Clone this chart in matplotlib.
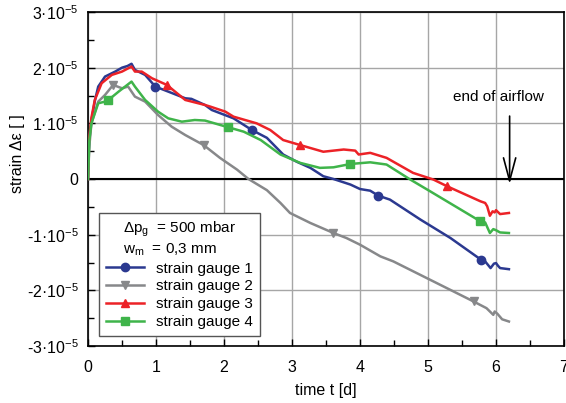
import matplotlib
matplotlib.use("Agg")
import matplotlib.pyplot as plt
import numpy as np

plt.rcParams['font.family'] = ['Liberation Sans', 'DejaVu Sans']
plt.rcParams['mathtext.fontset'] = 'custom'
plt.rcParams['mathtext.rm'] = 'Liberation Sans'
plt.rcParams['mathtext.it'] = 'Liberation Sans:italic'

# ---- data (strain in units of 1e-5) ----
t_g1 = [0, 0.01, 0.03, 0.054, 0.1, 0.15, 0.25, 0.4, 0.5, 0.58, 0.64, 0.69, 0.84, 0.99, 1.18, 1.43, 1.52,
        1.72, 1.82, 2.14, 2.41, 2.63, 2.87, 3.07, 3.27, 3.46, 3.61, 3.86, 4.0, 4.15, 4.27, 4.44, 4.89,
        5.33, 5.78, 5.84, 5.92, 5.97, 6.0, 6.03, 6.06, 6.19]
s_g1 = [0, 0.5, 0.85, 1.07, 1.4, 1.66, 1.84, 1.93, 2.0, 2.03, 2.07, 1.96, 1.87, 1.66, 1.57, 1.45, 1.44,
        1.33, 1.24, 1.09, 0.88, 0.74, 0.44, 0.31, 0.2, 0.05, 0.0, -0.1, -0.18, -0.21, -0.30, -0.37, -0.73,
        -1.06, -1.45, -1.48, -1.6, -1.52, -1.51, -1.56, -1.6, -1.62]
m_g1 = [13, 20, 30, 34]

t_g2 = [0, 0.02, 0.05, 0.15, 0.25, 0.37, 0.5, 0.59, 0.69, 0.84, 1.03, 1.23, 1.43, 1.70, 1.94, 2.19, 2.36,
        2.63, 2.83, 2.97, 3.27, 3.61, 3.8, 4.0, 4.3, 4.49, 5.67, 5.86, 5.96, 5.98, 6.02, 6.09, 6.19]
s_g2 = [0, 0.6, 1.0, 1.39, 1.51, 1.69, 1.63, 1.66, 1.48, 1.39, 1.15, 0.94, 0.79, 0.61, 0.38, 0.17, 0.0,
        -0.2, -0.43, -0.61, -0.79, -0.97, -1.06, -1.18, -1.39, -1.48, -2.2, -2.32, -2.44, -2.38, -2.42,
        -2.52, -2.56]
m_g2 = [5, 13, 21, 26]

t_g3 = [0, 0.005, 0.05, 0.1, 0.2, 0.35, 0.5, 0.64, 0.69, 0.79, 0.94, 1.16, 1.43, 1.72, 1.8, 2.02, 2.14,
        2.48, 2.68, 2.87, 3.12, 3.46, 3.76, 3.93, 3.98, 4.15, 4.39, 4.78, 5.08, 5.28, 5.77, 5.84, 5.87,
        5.91, 5.95, 5.98, 6.0, 6.06, 6.19]
s_g3 = [0, 0.6, 1.1, 1.42, 1.72, 1.87, 1.93, 2.02, 1.93, 1.93, 1.81, 1.69, 1.42, 1.33, 1.30, 1.21, 1.12,
        1.0, 0.88, 0.70, 0.61, 0.49, 0.53, 0.51, 0.44, 0.47, 0.38, 0.11, -0.01, -0.13, -0.40, -0.43, -0.49,
        -0.66, -0.58, -0.6, -0.56, -0.63, -0.61]
m_g3 = [11, 20, 29]

t_g4 = [0, 0.02, 0.05, 0.15, 0.25, 0.3, 0.45, 0.64, 0.69, 0.84, 1.03, 1.18, 1.38, 1.57, 1.72, 2.06, 2.29,
        2.54, 2.83, 3.12, 3.41, 3.61, 3.86, 4.15, 4.39, 4.74, 5.03, 5.77, 5.84, 5.91, 5.96, 6.0, 6.06, 6.19]
s_g4 = [0, 0.7, 1.0, 1.36, 1.39, 1.42, 1.57, 1.75, 1.66, 1.42, 1.21, 1.09, 1.03, 1.06, 1.05, 0.93, 0.85,
        0.70, 0.44, 0.29, 0.20, 0.21, 0.27, 0.30, 0.26, -0.01, -0.22, -0.76, -0.78, -0.97, -0.9, -0.92,
        -0.96, -0.97]
m_g4 = [5, 15, 22, 27]

labels = ['strain gauge 1', 'strain gauge 2', 'strain gauge 3', 'strain gauge 4']
colors = ['#2b3990', '#87888a', '#ec2227', '#3fb44a']
markers = ['o', 'v', '^', 's']

x_ticks = [0, 1, 2, 3, 4, 5, 6, 7]
y_ticks = [-3, -2, -1, 0, 1, 2, 3]
y_ticklabels = ['-3·10$^{\\mathregular{-5}}$', '-2·10$^{\\mathregular{-5}}$', '-1·10$^{\\mathregular{-5}}$',
                '0', '1·10$^{\\mathregular{-5}}$', '2·10$^{\\mathregular{-5}}$', '3·10$^{\\mathregular{-5}}$']
t_end_airflow = 6.2

fig = plt.figure(figsize=(5.66, 4.03), dpi=100)
ax = fig.add_axes([0.1555, 0.1414, 0.8410, 0.8288])

ax.set_xlim(0, 7)
ax.set_ylim(-3e-5, 3e-5)
ax.grid(True, color='#a6a6a6', linewidth=1.0)
ax.set_axisbelow(True)
ax.axhline(0, color='black', linewidth=1.5, zorder=2)

series = [(t_g1, s_g1, m_g1), (t_g2, s_g2, m_g2), (t_g3, s_g3, m_g3), (t_g4, s_g4, m_g4)]
for (t, s, m), lab, c, mk in zip(series, labels, colors, markers):
    ax.plot(t, np.array(s) * 1e-5, color=c, linewidth=1.8, marker=mk, markersize=6,
            markevery=m, label=lab, zorder=3)

ax.set_xticks(x_ticks)
ax.set_xticks(np.arange(0, 7.01, 0.5), minor=True)
ax.set_yticks(np.array(y_ticks) * 1e-5)
ax.set_yticks(np.arange(-3, 3.01, 0.5) * 1e-5, minor=True)
ax.set_yticklabels(y_ticklabels)
ax.tick_params(which='both', direction='in', labelsize=11.5, width=1)
ax.tick_params(which='major', length=5, pad=7)
ax.tick_params(which='minor', length=4)
ax.tick_params(axis='x', pad=10)
for sp in ax.spines.values():
    sp.set_linewidth(1.2)

ax.set_xlabel('time t [d]', fontsize=11.5, labelpad=6)
ax.set_ylabel('strain Δε [ ]', fontsize=11.5)
ax.yaxis.set_label_coords(-0.132, 0.575)

ax.annotate('', xy=(t_end_airflow, -0.14e-5), xytext=(t_end_airflow, 1.18e-5),
            arrowprops=dict(arrowstyle='->,head_length=1.5,head_width=0.4', color='black', lw=1.2),
            fontsize=11)
ax.text(6.03, 1.48e-5, 'end of airflow', fontsize=11, ha='center', va='center')

leg = ax.legend(loc='lower left', bbox_to_anchor=(0.023, 0.03), borderaxespad=0,
                fontsize=11, title='Δp$_\\mathregular{g}$  = 500 mbar\nw$_\\mathregular{m}$  = 0,3 mm',
                title_fontsize=11, fancybox=False, edgecolor='#555555', framealpha=1,
                handlelength=2.5, labelspacing=0.25, borderpad=0.45, handletextpad=0.8)
leg.get_frame().set_linewidth(1.0)

fig.savefig('out.png', dpi=100)
